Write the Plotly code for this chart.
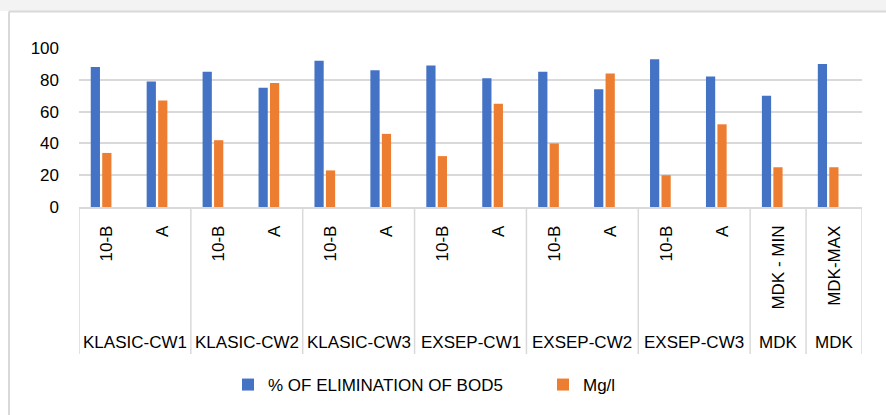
import plotly.graph_objects as go

# ---- data ----
group_labels = ["KLASIC-CW1", "KLASIC-CW2", "KLASIC-CW3", "EXSEP-CW1",
                "EXSEP-CW2", "EXSEP-CW3", "MDK", "MDK"]
group_sizes = [2, 2, 2, 2, 2, 2, 1, 1]
sub_labels = ["10-B", "A", "10-B", "A", "10-B", "A", "10-B", "A",
              "10-B", "A", "10-B", "A", "MDK - MIN", "MDK-MAX"]
bod_elim = [88, 79, 85, 75, 92, 86, 89, 81, 85, 74, 93, 82, 70, 90]
mg_l = [34, 67, 42, 78, 23, 46, 32, 65, 40, 84, 20, 52, 25, 25]
series_names = ["% OF ELIMINATION OF BOD5", "Mg/l"]
y_ticks = [0, 20, 40, 60, 80, 100]

BLUE = "#4472C4"
ORANGE = "#ED7D31"
GRID = "#d9d9d9"
FONT = dict(family="Liberation Sans, Arial, sans-serif", size=17, color="#000000")

# plot-area geometry (px) used to map frame decorations into paper coords
W, H = 886, 415
L, R, T, B = 79, 24, 48, 208
PW, PH = W - L - R, H - T - B


def px_x(x):
    return (x - L) / PW


def px_y(y):
    return (H - B - y) / PH


idx = list(range(len(sub_labels)))

fig = go.Figure()
fig.add_trace(go.Bar(x=idx, y=bod_elim, name=series_names[0],
                     marker=dict(color=BLUE, line=dict(width=0)),
                     width=0.165, offset=-0.29))
fig.add_trace(go.Bar(x=idx, y=mg_l, name=series_names[1],
                     marker=dict(color=ORANGE, line=dict(width=0)),
                     width=0.165, offset=-0.085))

shapes = []
annotations = []
# group dividers and group labels
start = 0
bounds = [-0.5]
for lab, n in zip(group_labels, group_sizes):
    members = idx[start:start + n]
    annotations.append(dict(x=sum(members) / n, y=px_y(342), xref="x", yref="paper",
                            text=lab, showarrow=False, font=FONT,
                            xanchor="center", yanchor="middle"))
    start += n
    bounds.append(start - 0.5)
for b in bounds:
    shapes.append(dict(type="line", xref="x", yref="paper", x0=b, x1=b,
                       y0=0, y1=px_y(354), line=dict(color=GRID, width=1.5)))

# outer chart frame (top band, top and left border)
shapes.append(dict(type="rect", xref="paper", yref="paper",
                   x0=px_x(0), x1=px_x(W), y0=px_y(0), y1=px_y(11),
                   fillcolor="#f3f3f3", line=dict(width=0), layer="below"))
shapes.append(dict(type="line", xref="paper", yref="paper",
                   x0=px_x(9), x1=px_x(W), y0=px_y(11.5), y1=px_y(11.5),
                   line=dict(color=GRID, width=2)))
shapes.append(dict(type="line", xref="paper", yref="paper",
                   x0=px_x(9), x1=px_x(9), y0=px_y(11.5), y1=px_y(H),
                   line=dict(color=GRID, width=2)))

fig.update_layout(
    width=W, height=H,
    margin=dict(l=L, r=R, t=T, b=B, pad=0),
    paper_bgcolor="white", plot_bgcolor="white",
    font=FONT,
    barmode="group",
    showlegend=True,
    legend=dict(orientation="h", x=px_x(228), xanchor="left",
                y=px_y(385), yanchor="middle", font=FONT,
                entrywidth=270, entrywidthmode="pixels",
                bgcolor="rgba(0,0,0,0)"),
    shapes=shapes,
    annotations=annotations,
    xaxis=dict(range=[-0.5, len(sub_labels) - 0.5], tickmode="array",
               tickvals=idx, ticktext=sub_labels, tickangle=-90,
               showgrid=False, zeroline=False, showline=True, linecolor=GRID,
               linewidth=1.5, ticks="", ticklabelstandoff=10, tickfont=FONT,
               fixedrange=True),
    yaxis=dict(range=[0, 100], tickmode="array", tickvals=y_ticks,
               showgrid=True, gridcolor=GRID, gridwidth=1.5, zeroline=False,
               showline=False, ticks="", ticklabelstandoff=19, tickfont=FONT,
               fixedrange=True),
)

fig.write_html("out.html", config={"displayModeBar": False},
               post_script="document.body.style.margin='0';")
